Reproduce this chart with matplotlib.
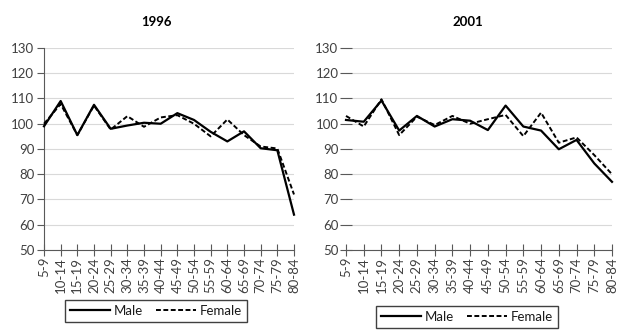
import matplotlib
matplotlib.use("Agg")
import matplotlib.pyplot as plt

plt.rcParams["font.family"] = ["Lato", "DejaVu Sans"]

age_groups = ["5-9", "10-14", "15-19", "20-24", "25-29", "30-34", "35-39", "40-44",
              "45-49", "50-54", "55-59", "60-64", "65-69", "70-74", "75-79", "80-84"]

male_1996 = [99, 109, 95.5, 107.5, 98, 99.3, 100.4, 100, 104.2, 101.5, 96.8, 93, 97, 90.3, 89.5, 64]
female_1996 = [100, 107.8, 95.5, 107.2, 97.7, 103, 98.8, 102.5, 103.4, 100, 95, 101.7, 95.5, 91, 90.2, 72]

male_2001 = [101.5, 100.8, 109.2, 97.3, 103.1, 98.9, 101.8, 101.2, 97.5, 107.2, 98.9, 97.3, 89.9, 93.6, 84.3, 77]
female_2001 = [103.1, 98.9, 109.7, 95.5, 102.8, 99.5, 103.1, 100, 101.8, 103.5, 95.1, 104.4, 92.5, 94.6, 87.6, 80]

fig = plt.figure(figsize=(6.3, 3.35), dpi=100)

tick_col = "#404040"
fs = 9.5


def draw(ax, male, female, show_spine):
    x = range(len(age_groups))
    ax.plot(x, male, color="black", lw=1.6, label="Male", clip_on=False, zorder=3)
    ax.plot(x, female, color="black", lw=1.4, ls=(0, (2.5, 1.3)), label="Female",
            clip_on=False, zorder=3)
    ax.set_xlim(0, len(age_groups) - 1)
    ax.set_ylim(50, 130)
    ax.set_yticks(range(50, 131, 10))
    ax.set_xticks(list(x))
    ax.set_xticklabels(age_groups, rotation=90)
    ax.yaxis.grid(True, color="#d9d9d9", lw=0.8)
    ax.set_axisbelow(True)
    for s in ["top", "right"]:
        ax.spines[s].set_visible(False)
    ax.spines["bottom"].set_color("#595959")
    ax.spines["left"].set_color("#595959")
    ax.spines["left"].set_visible(show_spine)
    ax.tick_params(axis="x", direction="inout", length=8, color="#595959",
                   labelsize=fs, labelcolor=tick_col, pad=1)
    if show_spine:
        ax.tick_params(axis="y", direction="out", length=5, color="#595959",
                       labelsize=fs, labelcolor=tick_col, pad=2)
    else:
        ax.tick_params(axis="y", direction="inout", length=9, color="#595959",
                       labelsize=fs, labelcolor=tick_col, pad=1)


ax1 = fig.add_axes([44 / 630, 85 / 335, 250 / 630, 202 / 335])
draw(ax1, male_1996, female_1996, True)
ax2 = fig.add_axes([346 / 630, 85 / 335, 266 / 630, 202 / 335])
draw(ax2, male_2001, female_2001, False)

fig.text(156 / 630, 1 - 22 / 335, "1996", ha="center", va="center",
         fontsize=9.5, fontweight="bold")
fig.text(468 / 630, 1 - 22 / 335, "2001", ha="center", va="center",
         fontsize=9.5, fontweight="bold")

h, l = ax1.get_legend_handles_labels()
leg_kw = dict(ncol=2, fontsize=9.5, handlelength=3.0, columnspacing=1.0,
              handletextpad=0.3, fancybox=False, framealpha=1)
leg1 = fig.legend(h, l, loc="center", bbox_to_anchor=(156 / 630, 1 - 311 / 335),
                  borderpad=0.4, **leg_kw)
leg1.get_frame().set_edgecolor("#404040")
leg2 = fig.legend(h, l, loc="upper center", bbox_to_anchor=(467 / 630, 1 - 299 / 335),
                  borderpad=0.4, **leg_kw)
leg2.get_frame().set_edgecolor("#404040")
for leg in (leg1, leg2):
    for t in leg.get_texts():
        t.set_color("#1a1a1a")

fig.savefig("out.png", dpi=100)
